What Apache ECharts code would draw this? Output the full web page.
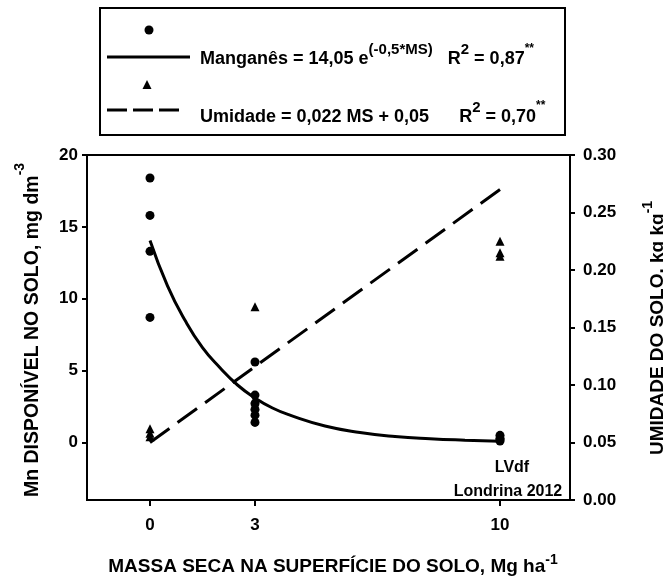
<!DOCTYPE html>
<html>
<head>
<meta charset="utf-8">
<script src="https://cdn.jsdelivr.net/npm/echarts@6/dist/echarts.min.js"></script>
<style>html,body{margin:0;padding:0;background:#fff;}#chart{width:663px;height:580px;}</style>
</head>
<body>
<div id="chart"></div>
<script>
// ---- data ----
const xTicks = [0, 3, 10];
const leftTicks = [0, 5, 10, 15, 20];
const mnMS = [0, 0, 0, 0, 3, 3, 3, 3, 3, 3, 10, 10, 10, 10];
const mnValues = [18.4, 15.8, 13.3, 8.7, 5.6, 3.3, 2.7, 2.3, 1.9, 1.4, 0.5, 0.3, 0.2, 0.1];
const umMS = [0, 0, 0, 3, 3, 3, 10, 10, 10];
const umValues = [0.062, 0.058, 0.055, 0.168, 0.088, 0.082, 0.225, 0.215, 0.212];
const mnFitMS = [0, 0.5, 1, 1.5, 2, 2.5, 3, 3.5, 4, 5, 6, 7, 8, 9, 10];
const mnFitValues = [14.05, 10.9, 8.5, 6.6, 5.2, 4.0, 3.1, 2.4, 1.9, 1.15, 0.7, 0.42, 0.26, 0.16, 0.09];
const umFitMS = [0, 10];
const umFitValues = [0.05, 0.27];

const FONT = 'Arial, "Liberation Sans", sans-serif';
const zip = (a, b) => a.map((v, i) => [v, b[i]]);

const chart = echarts.init(document.getElementById('chart'), null, {renderer: 'canvas'});

// rich styles: main text bottom-aligned, superscripts top-aligned
function supRich(size, mainLH, supSize, astSize) {
  return {
    m: {fontSize: size, fontWeight: 'bold', fontFamily: FONT, color: '#000', lineHeight: mainLH, verticalAlign: 'bottom'},
    s: {fontSize: supSize, fontWeight: 'bold', fontFamily: FONT, color: '#000', lineHeight: 8, verticalAlign: 'top'},
    a: {fontSize: astSize || supSize, fontWeight: 'bold', fontFamily: FONT, color: '#000', lineHeight: 22, verticalAlign: 'top'}
  };
}

const tickFont = {color: '#000', fontSize: 17, fontWeight: 'bold', fontFamily: FONT};

const option = {
  backgroundColor: '#fff',
  animation: false,
  grid: {left: 87, right: 93, top: 155, bottom: 80, show: true, borderColor: '#000', borderWidth: 2, backgroundColor: 'transparent'},
  xAxis: {
    type: 'value', min: -1.8, max: 12,
    axisLine: {onZero: false, lineStyle: {color: '#000', width: 2}},
    axisTick: {customValues: xTicks, length: 6, lineStyle: {color: '#000', width: 2}},
    axisLabel: Object.assign({customValues: xTicks, margin: 17}, tickFont),
    splitLine: {show: false}
  },
  yAxis: [
    {
      type: 'value', min: -4, max: 20, position: 'left',
      axisLine: {show: true, onZero: false, lineStyle: {color: '#000', width: 2}},
      axisTick: {show: true, customValues: leftTicks, length: 5, lineStyle: {color: '#000', width: 2}},
      axisLabel: Object.assign({customValues: leftTicks, margin: 9}, tickFont),
      splitLine: {show: false}
    },
    {
      type: 'value', min: 0, max: 0.3, interval: 0.05, position: 'right',
      axisLine: {show: true, onZero: false, lineStyle: {color: '#000', width: 2}},
      axisTick: {show: true, length: 5, lineStyle: {color: '#000', width: 2}},
      axisLabel: Object.assign({margin: 13, formatter: v => v.toFixed(2)}, tickFont),
      splitLine: {show: false}
    }
  ],
  series: [
    {
      name: 'Umidade ajuste', type: 'line', yAxisIndex: 1, data: zip(umFitMS, umFitValues),
      showSymbol: false, symbol: 'none',
      lineStyle: {color: '#000', width: 3, type: [24, 10]}, z: 2
    },
    {
      name: 'Manganês ajuste', type: 'line', yAxisIndex: 0, data: zip(mnFitMS, mnFitValues),
      showSymbol: false, symbol: 'none', smooth: true,
      lineStyle: {color: '#000', width: 3}, z: 2
    },
    {
      name: 'Manganês', type: 'scatter', yAxisIndex: 0, data: zip(mnMS, mnValues),
      symbol: 'circle', symbolSize: 9, itemStyle: {color: '#000', opacity: 1}, z: 3
    },
    {
      name: 'Umidade', type: 'scatter', yAxisIndex: 1, data: zip(umMS, umValues),
      symbol: 'triangle', symbolSize: 9, itemStyle: {color: '#000', opacity: 1}, z: 3
    }
  ],
  graphic: [
    // legend box
    {type: 'rect', shape: {x: 100, y: 8, width: 465, height: 127}, style: {fill: 'none', stroke: '#000', lineWidth: 2}},
    {type: 'circle', shape: {cx: 149, cy: 30, r: 4.5}, style: {fill: '#000'}},
    {type: 'line', shape: {x1: 107, y1: 57, x2: 190, y2: 57}, style: {stroke: '#000', lineWidth: 3}},
    {type: 'polygon', shape: {points: [[147, 80], [151.5, 89], [142.5, 89]]}, style: {fill: '#000'}},
    {type: 'line', shape: {x1: 107, y1: 110, x2: 183, y2: 110}, style: {stroke: '#000', lineWidth: 3, lineDash: [20, 6]}},
    {type: 'text', x: 200, y: 55.5, style: {
      text: '{m|Manganês = 14,05 e}{s|(-0,5*MS)}{m|   R}{s|2}{m| = 0,87}{a|**}',
      rich: supRich(18, 26, 15, 12), align: 'left', verticalAlign: 'middle'}},
    {type: 'text', x: 200, y: 113, style: {
      text: '{m|Umidade = 0,022 MS + 0,05      R}{s|2}{m| = 0,70}{a|**}',
      rich: supRich(18, 26, 15, 12), align: 'left', verticalAlign: 'middle'}},
    // annotations
    {type: 'text', x: 512, y: 468, style: {text: 'LVdf', font: 'bold 16px ' + FONT, fill: '#000', align: 'center', verticalAlign: 'middle'}},
    {type: 'text', x: 508, y: 492, style: {text: 'Londrina 2012', font: 'bold 16px ' + FONT, fill: '#000', align: 'center', verticalAlign: 'middle'}},
    // axis titles
    {type: 'text', x: 333, y: 565, style: {
      text: '{m|MASSA SECA NA SUPERFÍCIE DO SOLO, Mg ha}{s|-1}',
      rich: supRich(19, 23, 14), align: 'center', verticalAlign: 'middle'}},
    {type: 'text', x: 28, y: 330, rotation: Math.PI / 2, style: {
      text: '{m|Mn DISPONÍVEL NO SOLO, mg dm}{s|-3}',
      rich: supRich(19.5, 30, 14), align: 'center', verticalAlign: 'middle'}},
    {type: 'text', x: 654, y: 328, rotation: Math.PI / 2, style: {
      text: '{m|UMIDADE DO SOLO, kg kg}{s|-1}',
      rich: supRich(19, 26, 14), align: 'center', verticalAlign: 'middle'}}
  ]
};
chart.setOption(option);
</script>
</body>
</html>
